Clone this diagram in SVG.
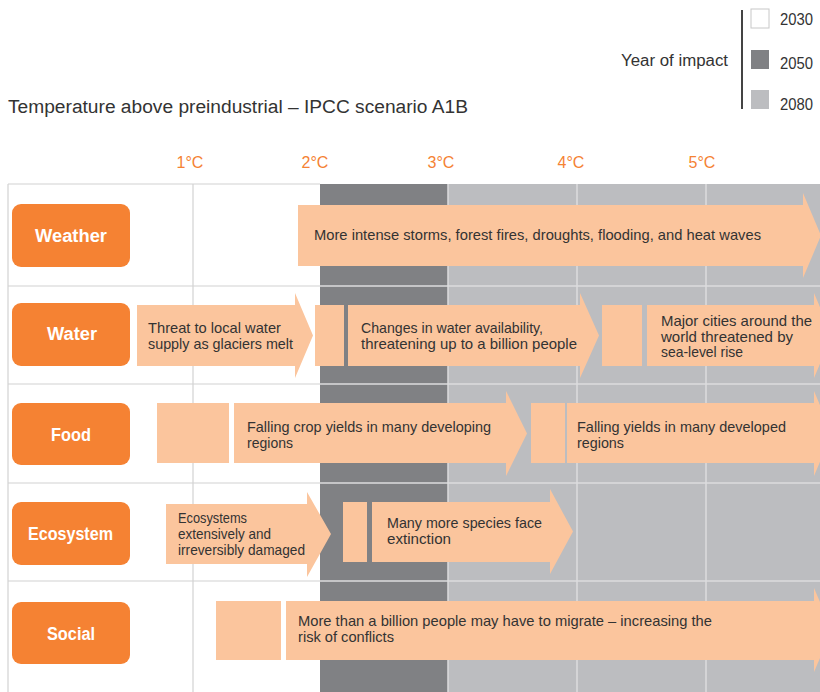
<svg xmlns="http://www.w3.org/2000/svg" width="820" height="692" viewBox="0 0 820 692">
  <style>
    text { font-family: "Liberation Sans", Arial, sans-serif; }
    .title { font-size: 18px; fill: #333; }
    .legend { font-size: 16px; fill: #333; }
    .axis { font-size: 16px; fill: #f58233; text-anchor: middle; }
    .label-box { fill: #f58233; }
    .label { font-size: 18px; font-weight: bold; fill: #ffffff; }
    .band-dark { fill: #808184; }
    .band-light { fill: #bcbdc0; }
    .grid-white { stroke: #d2d2d2; stroke-width: 1.2; }
    .grid-gray { stroke: #dcdcde; stroke-width: 1.5; }
    .impact { fill: #fbc59d; }
    .txt { font-size: 15px; fill: #333; }
  </style>

  <!-- heading -->
  <text class="title" x="8" y="113" textLength="460" lengthAdjust="spacingAndGlyphs">Temperature above preindustrial – IPCC scenario A1B</text>

  <!-- legend -->
  <g id="legend">
    <text class="legend" x="621" y="66" textLength="107" lengthAdjust="spacingAndGlyphs">Year of impact</text>
    <line x1="742" y1="10" x2="742" y2="109" stroke="#444" stroke-width="2"/>
    <rect x="751" y="9" width="18" height="19" fill="#ffffff" stroke="#c8c8c8" stroke-width="1"/>
    <rect x="751" y="50" width="18" height="19" fill="#808184"/>
    <rect x="751" y="90" width="18" height="19" fill="#bcbdc0"/>
    <text class="legend" x="780" y="25" textLength="33" lengthAdjust="spacingAndGlyphs">2030</text>
    <text class="legend" x="780" y="69" textLength="33" lengthAdjust="spacingAndGlyphs">2050</text>
    <text class="legend" x="780" y="110" textLength="33" lengthAdjust="spacingAndGlyphs">2080</text>
  </g>

  <!-- temperature axis -->
  <g id="axis">
    <text class="axis" x="190" y="168">1°C</text>
    <text class="axis" x="315" y="168">2°C</text>
    <text class="axis" x="441" y="168">3°C</text>
    <text class="axis" x="571" y="168">4°C</text>
    <text class="axis" x="702" y="168">5°C</text>
  </g>

  <!-- year bands and grid -->
  <g id="grid">
    <rect class="band-dark" x="320" y="184" width="128" height="508"/>
    <rect class="band-light" x="448" y="184" width="372" height="508"/>
    <!-- row dividers and columns over the white area -->
    <g class="grid-white">
      <line x1="8" y1="184" x2="320" y2="184"/>
      <line x1="8" y1="286" x2="320" y2="286"/>
      <line x1="8" y1="384" x2="320" y2="384"/>
      <line x1="8" y1="483" x2="320" y2="483"/>
      <line x1="8" y1="581" x2="320" y2="581"/>
      <line x1="8" y1="184" x2="8" y2="692"/>
      <line x1="193" y1="184" x2="193" y2="692"/>
    </g>
    <!-- row dividers and columns over the grey bands -->
    <g class="grid-gray">
      <line x1="320" y1="286" x2="820" y2="286"/>
      <line x1="320" y1="384" x2="820" y2="384"/>
      <line x1="320" y1="483" x2="820" y2="483"/>
      <line x1="320" y1="581" x2="820" y2="581"/>
      <line x1="448" y1="184" x2="448" y2="692"/>
      <line x1="577" y1="184" x2="577" y2="692"/>
      <line x1="706" y1="184" x2="706" y2="692"/>
    </g>
  </g>

  <!-- Weather -->
  <g id="weather">
    <rect class="label-box" x="12" y="204" width="118" height="63" rx="9"/>
    <text class="label" x="35" y="242" textLength="72" lengthAdjust="spacingAndGlyphs">Weather</text>
  </g>
  <g id="weather-impacts">
    <path class="impact" d="M298,205 H803 V193 L821,235.5 L803,278 V266 H298 Z"/>
    <text class="txt" x="314" y="240" textLength="447" lengthAdjust="spacingAndGlyphs">More intense storms, forest fires, droughts, flooding, and heat waves</text>
  </g>

  <!-- Water -->
  <g id="water">
    <rect class="label-box" x="12" y="303" width="118" height="63" rx="9"/>
    <text class="label" x="47" y="340" textLength="50" lengthAdjust="spacingAndGlyphs">Water</text>
  </g>
  <g id="water-impacts">
    <path class="impact" d="M137,305 H295 V293 L313,335.5 L295,378 V366 H137 Z"/>
    <text class="txt" x="148" y="333" textLength="133" lengthAdjust="spacingAndGlyphs">Threat to local water</text>
    <text class="txt" x="148" y="349" textLength="145" lengthAdjust="spacingAndGlyphs">supply as glaciers melt</text>
    <rect class="impact" x="315" y="305" width="29" height="61"/>
    <path class="impact" d="M348,305 H580 V293 L599,335.5 L580,378 V366 H348 Z"/>
    <text class="txt" x="361" y="333" textLength="182" lengthAdjust="spacingAndGlyphs">Changes in water availability,</text>
    <text class="txt" x="361" y="349" textLength="216" lengthAdjust="spacingAndGlyphs">threatening up to a billion people</text>
    <rect class="impact" x="602" y="305" width="40" height="61"/>
    <path class="impact" d="M647,305 H814 V293 L832,335.5 L814,378 V366 H647 Z"/>
    <text class="txt" x="661" y="326" textLength="151" lengthAdjust="spacingAndGlyphs">Major cities around the</text>
    <text class="txt" x="661" y="341.5" textLength="132" lengthAdjust="spacingAndGlyphs">world threatened by</text>
    <text class="txt" x="661" y="357" textLength="82" lengthAdjust="spacingAndGlyphs">sea-level rise</text>
  </g>

  <!-- Food -->
  <g id="food">
    <rect class="label-box" x="12" y="403" width="118" height="62" rx="9"/>
    <text class="label" x="51" y="441" textLength="40" lengthAdjust="spacingAndGlyphs">Food</text>
  </g>
  <g id="food-impacts">
    <rect class="impact" x="157" y="403" width="72" height="60"/>
    <path class="impact" d="M234,403 H506 V391 L527,433.5 L506,476 V463 H234 Z"/>
    <text class="txt" x="247" y="432" textLength="244" lengthAdjust="spacingAndGlyphs">Falling crop yields in many developing</text>
    <text class="txt" x="247" y="448" textLength="46" lengthAdjust="spacingAndGlyphs">regions</text>
    <rect class="impact" x="531" y="403" width="34" height="60"/>
    <path class="impact" d="M567,403 H814 V391 L832,433.5 L814,476 V463 H567 Z"/>
    <text class="txt" x="577" y="432" textLength="209" lengthAdjust="spacingAndGlyphs">Falling yields in many developed</text>
    <text class="txt" x="577" y="448" textLength="47" lengthAdjust="spacingAndGlyphs">regions</text>
  </g>

  <!-- Ecosystem -->
  <g id="ecosystem">
    <rect class="label-box" x="12" y="502" width="118" height="63" rx="9"/>
    <text class="label" x="28" y="540" textLength="85" lengthAdjust="spacingAndGlyphs">Ecosystem</text>
  </g>
  <g id="ecosystem-impacts">
    <path class="impact" d="M166,504 H307 V492 L331,534 L307,577 V564 H166 Z"/>
    <text class="txt" x="178" y="523" textLength="69" lengthAdjust="spacingAndGlyphs">Ecosystems</text>
    <text class="txt" x="178" y="539" textLength="93" lengthAdjust="spacingAndGlyphs">extensively and</text>
    <text class="txt" x="178" y="555" textLength="127" lengthAdjust="spacingAndGlyphs">irreversibly damaged</text>
    <rect class="impact" x="343" y="502" width="24" height="60"/>
    <path class="impact" d="M372,502 H550 V489 L573,531.5 L550,574 V562 H372 Z"/>
    <text class="txt" x="387" y="528" textLength="155" lengthAdjust="spacingAndGlyphs">Many more species face</text>
    <text class="txt" x="387" y="544" textLength="64" lengthAdjust="spacingAndGlyphs">extinction</text>
  </g>

  <!-- Social -->
  <g id="social">
    <rect class="label-box" x="12" y="602" width="118" height="62" rx="9"/>
    <text class="label" x="47" y="640" textLength="48" lengthAdjust="spacingAndGlyphs">Social</text>
  </g>
  <g id="social-impacts">
    <rect class="impact" x="216" y="601" width="65" height="59"/>
    <path class="impact" d="M286,601 H814 V588 L832,630 L814,672 V660 H286 Z"/>
    <text class="txt" x="298" y="626" textLength="414" lengthAdjust="spacingAndGlyphs">More than a billion people may have to migrate – increasing the</text>
    <text class="txt" x="298" y="642" textLength="96" lengthAdjust="spacingAndGlyphs">risk of conflicts</text>
  </g>
</svg>
